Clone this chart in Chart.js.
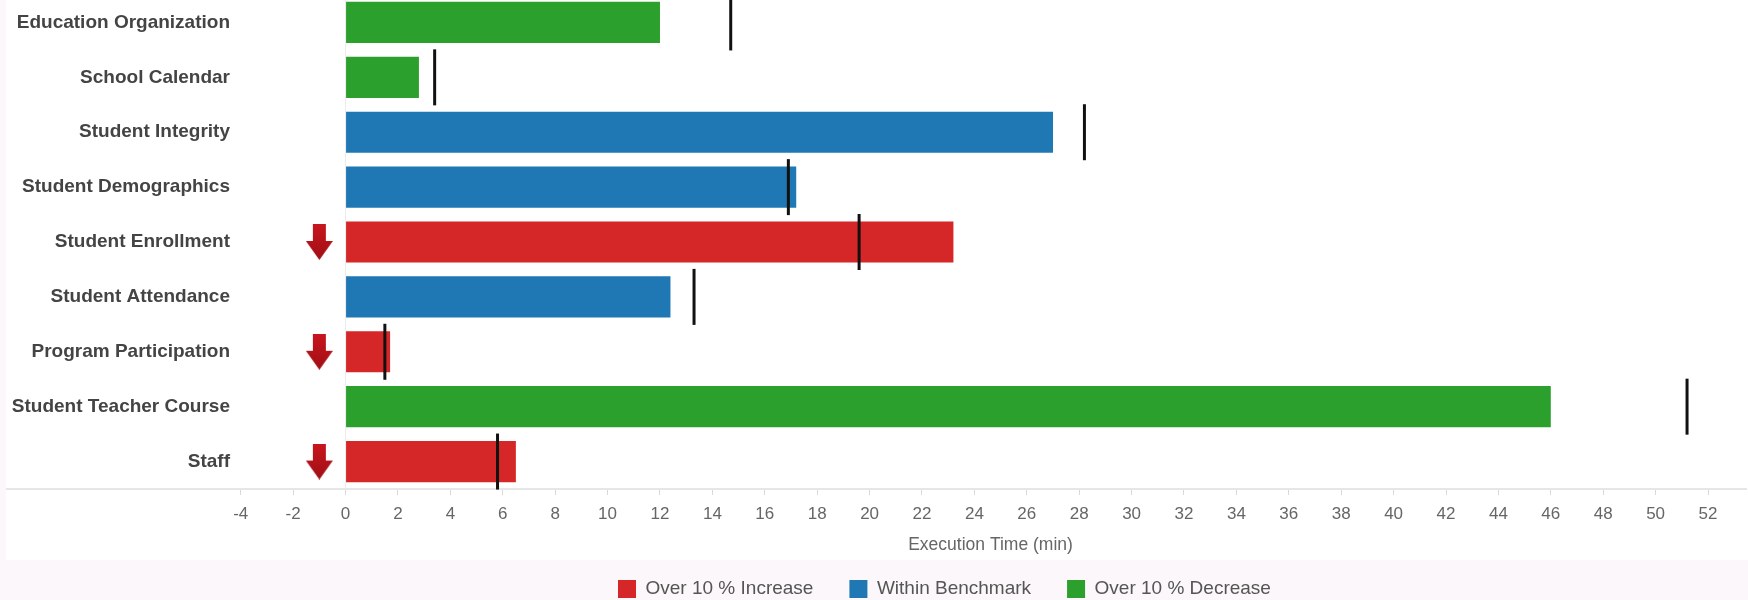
<!DOCTYPE html>
<html>
<head>
<meta charset="utf-8">
<title>Execution Time by Load</title>
<script src="https://cdn.jsdelivr.net/npm/chart.js@4.4.1/dist/chart.umd.min.js"></script>
<style>
  html, body { margin: 0; padding: 0; width: 1748px; height: 600px; overflow: hidden; background: #fcf7fa; }
  #card { position: absolute; left: 6px; top: 0; width: 1742px; height: 560px; background: #ffffff; }
  #wrap { position: absolute; left: 0; top: -5px; width: 1748px; height: 609px; }
</style>
</head>
<body>
<div id="card"></div>
<div id="wrap"><canvas id="chart"></canvas></div>
<script>
// Load categories, top to bottom
const categories = [
  'Education Organization',
  'School Calendar',
  'Student Integrity',
  'Student Demographics',
  'Student Enrollment',
  'Student Attendance',
  'Program Participation',
  'Student Teacher Course',
  'Staff'
];

// Current execution time per load (minutes)
const executionTimes = [12.0, 2.8, 27.0, 17.2, 23.2, 12.4, 1.7, 46.0, 6.5];

// Benchmark execution time per load (minutes)
const benchmarkTimes = [14.7, 3.4, 28.2, 16.9, 19.6, 13.3, 1.5, 51.2, 5.8];

// Comparison with the benchmark
const benchmarkStatus = ['decrease', 'decrease', 'within', 'within', 'increase', 'within', 'increase', 'decrease', 'increase'];

// Alert arrows placed left of the zero line for loads that got slower
const alertArrows = [null, null, null, null, -1, null, -1, null, -1];

// Axis tick labels
const xTickValues = [-4, -2, 0, 2, 4, 6, 8, 10, 12, 14, 16, 18, 20, 22, 24, 26, 28, 30, 32, 34, 36, 38, 40, 42, 44, 46, 48, 50, 52];

const statusOrder = ['increase', 'within', 'decrease'];
const statusNames = { increase: 'Over 10 % Increase', within: 'Within Benchmark', decrease: 'Over 10 % Decrease' };
const statusColors = { increase: '#d62728', within: '#1f77b4', decrease: '#2ca02c' };

const FONT = "'Liberation Sans', Arial, sans-serif";

// Down-arrow glyph used as a point style
function makeArrow() {
  const c = document.createElement('canvas');
  c.width = 27; c.height = 36;
  const g = c.getContext('2d');
  const grad = g.createLinearGradient(0, 0, 0, 36);
  grad.addColorStop(0, '#c9161e');
  grad.addColorStop(1, '#a00f15');
  g.fillStyle = grad;
  g.beginPath();
  g.moveTo(7, 0); g.lineTo(20, 0); g.lineTo(20, 17); g.lineTo(27, 17);
  g.lineTo(13.5, 36); g.lineTo(0, 17); g.lineTo(7, 17);
  g.closePath();
  g.fill();
  return c;
}

const barSets = statusOrder.map(key => ({
  type: 'bar',
  indexAxis: 'y',
  label: statusNames[key],
  data: executionTimes.map((v, i) => benchmarkStatus[i] === key ? v : null),
  backgroundColor: statusColors[key],
  borderWidth: 0,
  grouped: false,
  barPercentage: 0.75,
  categoryPercentage: 1,
  order: 2
}));

const benchmarkSet = {
  type: 'line',
  indexAxis: 'y',
  label: 'Benchmark',
  data: benchmarkTimes,
  showLine: false,
  pointStyle: 'line',
  pointRotation: 90,
  pointRadius: 28,
  pointHoverRadius: 28,
  pointBorderWidth: 3,
  pointBorderColor: '#111111',
  pointBackgroundColor: '#111111',
  clip: false,
  order: 0
};

const arrowSet = {
  type: 'line',
  indexAxis: 'y',
  label: 'Alert',
  data: alertArrows,
  showLine: false,
  pointStyle: makeArrow(),
  clip: false,
  order: 0
};

// Axis baseline continues under the category labels
const baselineExtension = {
  id: 'baselineExtension',
  afterDraw(chart) {
    const { ctx, chartArea } = chart;
    const y = Math.round(chartArea.bottom);
    ctx.save();
    ctx.strokeStyle = '#e6e6e6';
    ctx.lineWidth = 2;
    ctx.beginPath();
    ctx.moveTo(6, y);
    ctx.lineTo(chartArea.left, y);
    ctx.stroke();
    ctx.restore();
  }
};

// Legend row placement: first swatch at a fixed x, row centred at a fixed y
const legendPlacement = {
  id: 'legendPlacement',
  afterLayout(chart) {
    const l = chart.legend;
    if (!l || !l.lineWidths) return;
    const lab = l.options.labels;
    const itemH = Math.max(lab.font.size, lab.boxHeight);
    const firstX = (l.left + lab.padding + l.right - l.lineWidths[0]) / 2;
    const dx = 618 - firstX;
    const dy = 594 - (l.top + lab.padding + itemH / 2);
    l.top += dy;
    l.left += dx; l.right += dx;
    l.bottom = l.top + lab.padding + itemH + 16;
  }
};

new Chart(document.getElementById('chart'), {
  data: {
    labels: categories,
    datasets: [...barSets, benchmarkSet, arrowSet]
  },
  options: {
    indexAxis: 'y',
    responsive: true,
    maintainAspectRatio: false,
    animation: false,
    events: [],
    layout: { autoPadding: false, padding: { left: 0, right: 2, top: 0, bottom: 18 } },
    scales: {
      x: {
        type: 'linear',
        min: -4.22,
        max: 53.45,
        afterBuildTicks: s => { s.ticks = xTickValues.map(v => ({ value: v })); },
        afterFit: s => { s.height = 67; s.paddingLeft = 0; s.paddingRight = 0; },
        grid: {
          drawOnChartArea: true,
          drawTicks: true,
          tickLength: 6,
          tickColor: '#d9d9d9',
          tickWidth: 1,
          color: c => (c.tick && c.tick.value === 0 ? '#ececec' : 'rgba(0,0,0,0)'),
          lineWidth: 1
        },
        border: { display: true, color: '#e6e6e6', width: 2 },
        ticks: {
          color: '#666666',
          font: { family: FONT, size: 17 },
          padding: 9,
          maxRotation: 0,
          autoSkip: false
        },
        title: {
          display: true,
          text: 'Execution Time (min)',
          color: '#666666',
          font: { family: FONT, size: 17.5 },
          padding: { top: 4, bottom: 0 }
        }
      },
      y: {
        type: 'category',
        grid: { display: false, drawTicks: false },
        border: { display: false },
        ticks: {
          color: '#444444',
          font: { family: FONT, size: 19, weight: 'bold' },
          padding: 5,
          autoSkip: false
        },
        afterFit: s => { s.width = 235; s.paddingTop = 0; s.paddingBottom = 0; }
      }
    },
    plugins: {
      legend: {
        display: true,
        position: 'bottom',
        maxHeight: 30,
        labels: {
          filter: item => item.datasetIndex < 3,
          boxWidth: 18,
          boxHeight: 18,
          padding: 36,
          color: '#555555',
          font: { family: FONT, size: 19 }
        }
      },
      tooltip: { enabled: false }
    }
  },
  plugins: [baselineExtension, legendPlacement]
});
</script>
</body>
</html>
